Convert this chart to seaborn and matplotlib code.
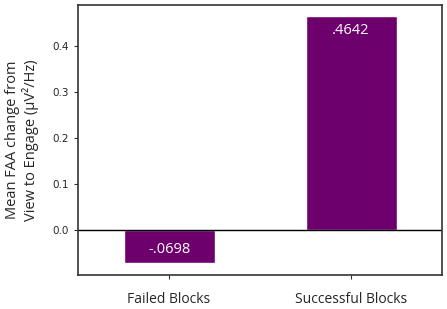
import matplotlib
matplotlib.use("Agg")
import matplotlib.pyplot as plt
import seaborn as sns
import pandas as pd

categories = ["Failed Blocks", "Successful Blocks"]
values = [-0.0698, 0.4642]
value_labels = ["-.0698", ".4642"]
y_ticks = [0.0, 0.1, 0.2, 0.3, 0.4]

sns.set_style("white")
plt.rcParams['font.family'] = ['DejaVu Sans']

df = pd.DataFrame({"cat": categories, "val": values})

fig = plt.figure(figsize=(4.47, 3.09), dpi=100)
ax = fig.add_axes([0.1745, 0.110, 0.8145, 0.874])
sns.barplot(data=df, x="cat", y="val", color="#6e006e", saturation=1, width=0.5, ax=ax)
ax.axhline(0, color="black", linewidth=1.0)

ax.set_xlim(-0.5, 1.5)
ax.set_ylim(-0.0965, 0.489)
ax.set_yticks(y_ticks)
ax.set_yticklabels([f"{t:.1f}" for t in y_ticks], fontsize=7.5)
ax.tick_params(axis="both", which="both", length=3, width=0.8, color="#333333", left=True, bottom=True)
ax.set_xticks(range(len(categories)))
ax.set_xticklabels(categories, fontsize=10, family="Open Sans")
ax.tick_params(axis="x", pad=9)
ax.set_xlabel("")
ax.set_ylabel("Mean FAA change from\nView to Engage (µV²/Hz)", fontsize=10.5, family="Open Sans", labelpad=10, linespacing=1.1)

for i, (v, lab) in enumerate(zip(values, value_labels)):
    if v >= 0:
        ax.annotate(lab, (i, v), xytext=(0, -10), textcoords="offset points",
                    ha="center", va="center", color="white", fontsize=10.5, family="Open Sans")
    else:
        ax.annotate(lab, (i, 0), xytext=(0, -13.5), textcoords="offset points",
                    ha="center", va="center", color="white", fontsize=10.5, family="Open Sans")

for s in ax.spines.values():
    s.set_color("#333333")
    s.set_linewidth(1.2)
    s.set_visible(True)

fig.savefig("out.png", dpi=100)
